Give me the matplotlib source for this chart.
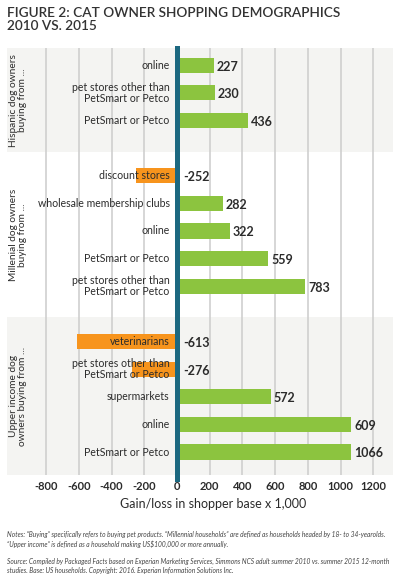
import matplotlib
matplotlib.use("Agg")
import matplotlib.pyplot as plt
import matplotlib.transforms as mtransforms

plt.rcParams['font.family'] = ['Lato', 'DejaVu Sans']

# categories top to bottom, grouped by shopper segment
groups = ["Hispanic dog owners\nbuying from ...",
          "Millenial dog owners\nbuying from ...",
          "Upper income dog\nowners buying from ..."]
group_cats = [
    ["online", "pet stores other than\nPetSmart or Petco", "PetSmart or Petco"],
    ["discount stores", "wholesale membership clubs", "online",
     "PetSmart or Petco", "pet stores other than\nPetSmart or Petco"],
    ["veterinarians", "pet stores other than\nPetSmart or Petco", "supermarkets",
     "online", "PetSmart or Petco"],
]
# printed values
group_vals = [
    [227, 230, 436],
    [-252, 282, 322, 559, 783],
    [-613, -276, 572, 609, 1066],
]
# bar lengths as drawn in the source (the "online 609" bar is drawn as long as 1066)
group_bars = [
    [227, 230, 436],
    [-252, 282, 322, 559, 783],
    [-613, -276, 572, 1066, 1066],
]
ticks = [-800, -600, -400, -200, 0, 200, 400, 600, 800, 1000, 1200]

GREEN = "#8cc43f"
ORANGE = "#f7941d"
TEAL = "#1c6880"
BAND = "#f4f4f2"
TXT = "#2b2b2b"

fig = plt.figure(figsize=(4.0, 5.81), dpi=100)
ax = fig.add_axes([7 / 400, 1 - 475 / 581, 386 / 400, 427 / 581])

# positions: one empty slot between groups
pos = []
p = 0
for cats in group_cats:
    pos.append(list(range(p, p + len(cats))))
    p += len(cats) + 1

bounds = [(-0.62, 3.15), (3.15, 9.12), (9.12, 14.83)]
for i, (a, b) in enumerate(bounds):
    if i != 1:
        ax.axhspan(a, b, color=BAND, zorder=0, lw=0)

for t in ticks:
    if t != 0:
        ax.axvline(t, color="#cfcfcf", lw=1.2, zorder=1)

for gi, cats in enumerate(group_cats):
    for y, cat, v, bl in zip(pos[gi], cats, group_vals[gi], group_bars[gi]):
        col = GREEN if bl > 0 else ORANGE
        ax.barh(y, bl, height=0.55, color=col, zorder=2)
        ax.text(-45, y, cat, ha="right", va="center", fontsize=7.6,
                color=TXT, linespacing=0.95, zorder=4)
        if v > 0:
            ax.text(bl + 18, y + 0.05, str(v), ha="left", va="center",
                    fontsize=9, fontweight="bold", color=TXT, zorder=4)
        else:
            ax.text(35, y + 0.05, str(v), ha="left", va="center",
                    fontsize=9, fontweight="bold", color=TXT, zorder=4)

ax.axvline(0, ymin=-0.01, color=TEAL, lw=3.6, zorder=3, clip_on=False)

trans = mtransforms.blended_transform_factory(ax.transAxes, ax.transData)
for gi, g in enumerate(groups):
    a, b = bounds[gi]
    ax.text(0.029, (a + b) / 2, g, transform=trans, rotation=90, ha="center",
            va="center", fontsize=7.3, color=TXT, linespacing=0.95)

ax.set_xlim(-1040, 1321)
ax.set_ylim(14.83, -0.62)
ax.set_xticks(ticks)
ax.set_xticklabels([str(t) for t in ticks], fontsize=8, fontweight="bold", color=TXT)
ax.tick_params(axis="x", length=0, pad=4)
ax.set_yticks([])
for s in ax.spines.values():
    s.set_visible(False)

fig.text(213 / 400, 1 - 504 / 581, "Gain/loss in shopper base x 1,000", ha="center",
         va="center", fontsize=9, color=TXT)

fig.text(7 / 400, 1 - 7 / 581, "FIGURE 2: CAT OWNER SHOPPING DEMOGRAPHICS\n2010 VS. 2015",
         ha="left", va="top", fontsize=9.8, fontweight="semibold", color="#333333",
         linespacing=1.15)

notes = ("Notes: \u201cBuying\u201d specifically refers to buying pet products. \u201cMillennial households\u201d are defined as households headed by 18- to 34-yearolds.\n"
         "\u201cUpper income\u201d is defined as a household making US$100,000 or more annually.")
source = ("Source: Compiled by Packaged Facts based on Experian Marketing Services, Simmons NCS adult summer 2010 vs. summer 2015 12-month\n"
          "studies. Base: US households. Copyright: 2016. Experian Information Solutions Inc.")
fig.text(7 / 400, 1 - 531 / 581, notes, ha="left", va="top", fontsize=4.75,
         style="italic", color="#444444", linespacing=1.4)
fig.text(7 / 400, 1 - 558 / 581, source, ha="left", va="top", fontsize=4.75,
         style="italic", color="#444444", linespacing=1.4)

fig.savefig("out.png", dpi=100)
